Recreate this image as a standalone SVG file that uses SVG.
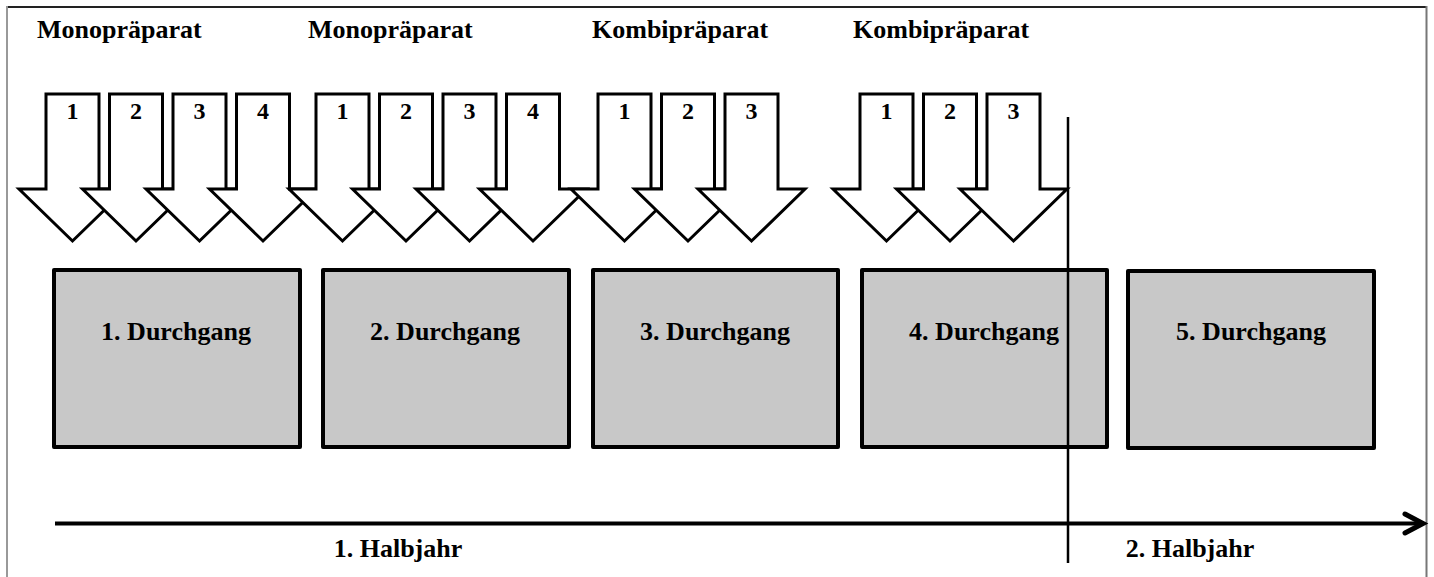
<svg xmlns="http://www.w3.org/2000/svg" xmlns:xlink="http://www.w3.org/1999/xlink" width="1434" height="577" viewBox="0 0 1434 577">
  <style>
    text { font-family: "Liberation Serif", "Times New Roman", serif; font-weight: bold; fill: #000; }
    .title { font-size: 26px; }
    .num { font-size: 24px; text-anchor: middle; }
    .box { fill: #c8c8c8; stroke: #000; stroke-width: 4; stroke-linejoin: round; }
    .boxlabel { font-size: 26px; text-anchor: middle; }
    .axis { font-size: 26px; text-anchor: middle; }
    .dose { fill: #fff; stroke: #000; stroke-width: 3; stroke-linejoin: miter; }
  </style>
  <defs>
    <!-- block arrow centred on x=0: shaft 94..189, head down to 241 -->
    <path id="dose" class="dose" d="M -26.5 94 H 26.5 V 189 H 53.5 L 0 241 L -53.5 189 H -26.5 Z"/>
  </defs>

  <rect x="0" y="0" width="1434" height="577" fill="#fff"/>

  <!-- frame -->
  <g id="frame" fill="none">
    <line x1="7" y1="7" x2="1427" y2="7" stroke="#222" stroke-width="2"/>
    <line x1="7" y1="6" x2="7" y2="577" stroke="#999" stroke-width="2"/>
    <line x1="1426.5" y1="6" x2="1426.5" y2="577" stroke="#777" stroke-width="2"/>
  </g>

  <!-- preparation headings -->
  <g id="headings">
    <text class="title" x="37" y="38">Monopräparat</text>
    <text class="title" x="308" y="38">Monopräparat</text>
    <text class="title" x="592" y="38">Kombipräparat</text>
    <text class="title" x="853" y="38">Kombipräparat</text>
  </g>

  <!-- group 1: Monopräparat -->
  <g id="g1-d1"><use xlink:href="#dose" x="72.5"/><text class="num" x="72.5" y="119">1</text></g>
  <g id="g1-d2"><use xlink:href="#dose" x="136"/><text class="num" x="136" y="119">2</text></g>
  <g id="g1-d3"><use xlink:href="#dose" x="199.5"/><text class="num" x="199.5" y="119">3</text></g>
  <g id="g1-d4"><use xlink:href="#dose" x="263"/><text class="num" x="263" y="119">4</text></g>

  <!-- group 2: Monopräparat -->
  <g id="g2-d1"><use xlink:href="#dose" x="342.5"/><text class="num" x="342.5" y="119">1</text></g>
  <g id="g2-d2"><use xlink:href="#dose" x="406"/><text class="num" x="406" y="119">2</text></g>
  <g id="g2-d3"><use xlink:href="#dose" x="469.5"/><text class="num" x="469.5" y="119">3</text></g>
  <g id="g2-d4"><use xlink:href="#dose" x="533"/><text class="num" x="533" y="119">4</text></g>

  <!-- group 3: Kombipräparat -->
  <g id="g3-d1"><use xlink:href="#dose" x="624.5"/><text class="num" x="624.5" y="119">1</text></g>
  <g id="g3-d2"><use xlink:href="#dose" x="688"/><text class="num" x="688" y="119">2</text></g>
  <g id="g3-d3"><use xlink:href="#dose" x="751.5"/><text class="num" x="751.5" y="119">3</text></g>

  <!-- group 4: Kombipräparat -->
  <g id="g4-d1"><use xlink:href="#dose" x="886.5"/><text class="num" x="886.5" y="119">1</text></g>
  <g id="g4-d2"><use xlink:href="#dose" x="950"/><text class="num" x="950" y="119">2</text></g>
  <g id="g4-d3"><use xlink:href="#dose" x="1013.5"/><text class="num" x="1013.5" y="119">3</text></g>

  <!-- runs -->
  <g id="run1"><rect class="box" x="54" y="270" width="246" height="177"/><text class="boxlabel" x="176" y="340">1. Durchgang</text></g>
  <g id="run2"><rect class="box" x="323" y="270" width="246" height="177"/><text class="boxlabel" x="445" y="340">2. Durchgang</text></g>
  <g id="run3"><rect class="box" x="593" y="270" width="245" height="177"/><text class="boxlabel" x="715" y="340">3. Durchgang</text></g>
  <g id="run4"><rect class="box" x="862" y="270" width="245" height="177"/><text class="boxlabel" x="984" y="340">4. Durchgang</text></g>
  <g id="run5"><rect class="box" x="1128" y="271" width="246" height="177"/><text class="boxlabel" x="1251" y="340">5. Durchgang</text></g>

  <!-- time axis and half-year divider -->
  <g id="connectors" fill="none" stroke="#000">
    <line x1="1068" y1="117" x2="1068" y2="563" stroke-width="2.5"/>
    <line x1="55" y1="523.5" x2="1421" y2="523.5" stroke-width="4"/>
    <polyline points="1405,514 1423,523.5 1405,533" stroke-width="5" stroke-linecap="round" stroke-linejoin="miter"/>
  </g>

  <g id="halves">
    <text class="axis" x="398" y="557">1. Halbjahr</text>
    <text class="axis" x="1190" y="557">2. Halbjahr</text>
  </g>
</svg>
